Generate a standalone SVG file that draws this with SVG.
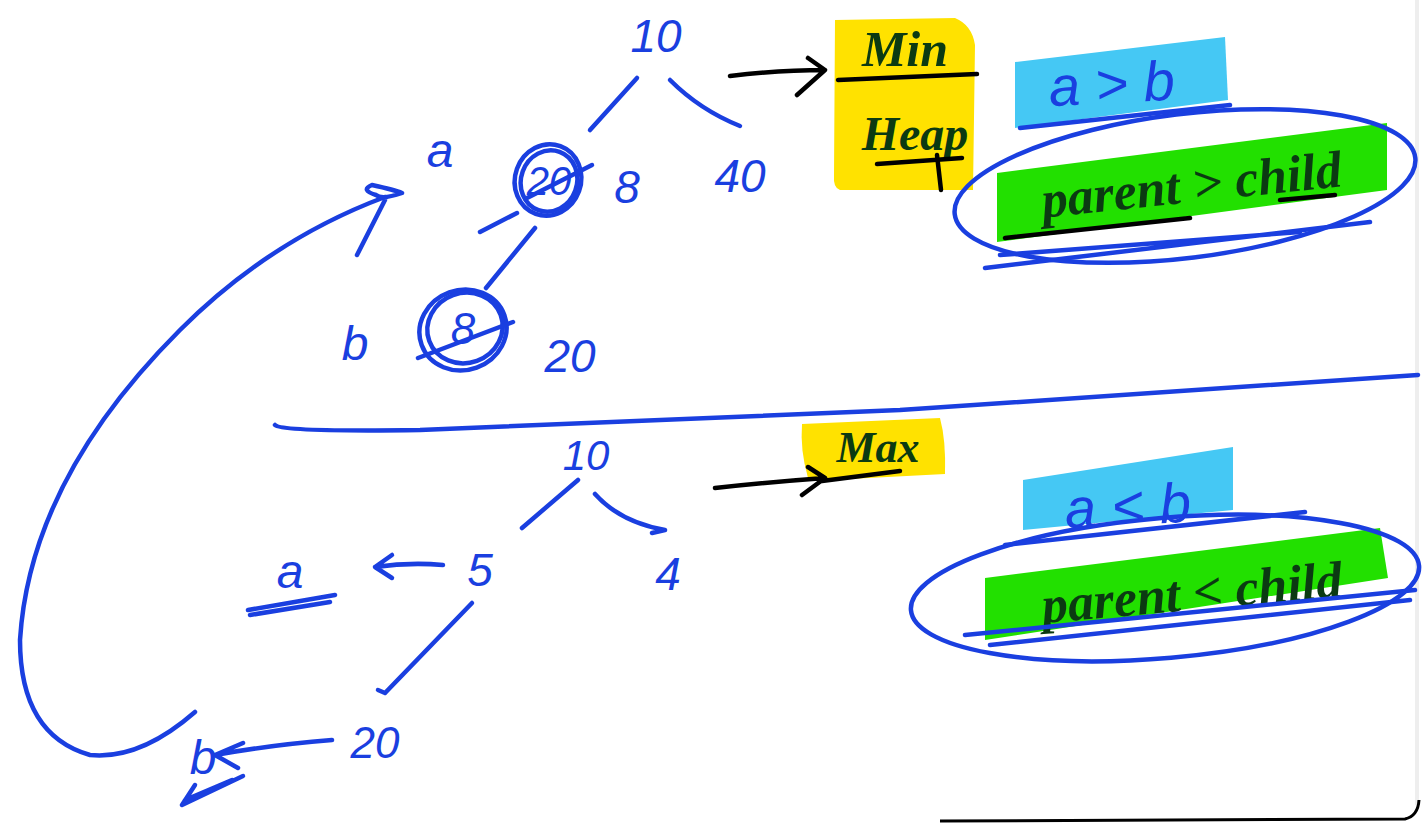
<svg xmlns="http://www.w3.org/2000/svg" width="1422" height="824" viewBox="0 0 1422 824">
<style>
.ink{fill:none;stroke:#1a3fe0;stroke-width:4.5;stroke-linecap:round;stroke-linejoin:round}
.blk{fill:none;stroke:#000;stroke-width:4.5;stroke-linecap:round;stroke-linejoin:round}
.bt{font-family:"Liberation Sans",Arial,sans-serif;fill:#1a3fe0;font-style:italic}
.gt{font-family:"Liberation Serif","Times New Roman",serif;fill:#0b3a12;font-style:italic;font-weight:bold}
</style>
<rect width="1422" height="824" fill="#fff"/>
<!-- frame edges -->
<line x1="1417" y1="0" x2="1417" y2="805" stroke="#eeeeee" stroke-width="4"/>
<path d="M940,821 L1405,819 Q1418,816 1419,800" fill="none" stroke="#000" stroke-width="3"/>

<!-- highlights -->
<g id="min-heap-label">
<path d="M835,20 L955,18 Q972,25 975,45 L973,190 L840,190 Q833,188 834,175 Z" fill="#ffe200"/>
<text class="gt" x="905" y="66" font-size="50" text-anchor="middle">Min</text>
<line class="blk" x1="838" y1="80" x2="977" y2="74"/>
<text class="gt" x="915" y="150" font-size="48" text-anchor="middle">Heap</text>
<line class="blk" x1="877" y1="164" x2="962" y2="158"/>
<line class="blk" x1="937" y1="155" x2="941" y2="190"/>
</g>
<g id="max-heap-label">
<path d="M802,424 L940,418 Q946,440 945,474 L830,480 L808,478 Q800,450 802,424 Z" fill="#ffe200"/>
<text class="gt" x="878" y="462" font-size="44" text-anchor="middle">Max</text>
<line class="blk" x1="822" y1="481" x2="900" y2="471"/>
</g>
<g id="cond-max">
<path d="M1015,62 L1225,37 L1228,100 L1015,128 Z" fill="#45c8f4"/>
<text class="bt" x="1112" y="103" font-size="56" text-anchor="middle" transform="rotate(-3 1112 90)">a &gt; b</text>
<path d="M997,173 L1387,123 L1387,190 L997,242 Z" fill="#22e000"/>
<text class="gt" x="1192" y="202" font-size="52" text-anchor="middle" transform="rotate(-6 1192 190)">parent &gt; child</text>
<line class="blk" x1="1005" y1="238" x2="1190" y2="218" stroke-width="5"/>
<line class="blk" x1="1280" y1="200" x2="1335" y2="195" stroke-width="5"/>
<ellipse class="ink" cx="1185" cy="186" rx="232" ry="72" transform="rotate(-7 1185 186)"/>
<path class="ink" d="M1020,128 L1230,105 M985,268 L1370,222 M1000,255 L1300,232"/>
</g>
<g id="cond-min">
<path d="M1023,480 L1233,447 L1233,510 L1023,530 Z" fill="#45c8f4"/>
<text class="bt" x="1128" y="525" font-size="56" text-anchor="middle" transform="rotate(-3 1128 510)">a &lt; b</text>
<path d="M985,578 L1380,528 L1388,578 L985,640 Z" fill="#22e000"/>
<text class="gt" x="1192" y="610" font-size="52" text-anchor="middle" transform="rotate(-5 1192 595)">parent &lt; child</text>
<ellipse class="ink" cx="1165" cy="588" rx="255" ry="70" transform="rotate(-5 1165 588)"/>
<path class="ink" d="M1005,545 L1305,512 M965,635 L1415,590 M990,645 L1410,600"/>
</g>

<!-- top tree nodes -->
<g id="n-top-10"><text class="bt" x="656" y="52" font-size="46" text-anchor="middle">10</text></g>
<g id="n-top-20">
<text class="bt" x="549" y="195" font-size="40" text-anchor="middle">20</text>
<ellipse class="ink" cx="548" cy="180" rx="33" ry="36" transform="rotate(20 548 180)"/>
<ellipse class="ink" cx="549" cy="181" rx="28" ry="31" transform="rotate(20 549 181)"/>
<line class="ink" x1="527" y1="198" x2="592" y2="165"/>
</g>
<g id="n-top-8"><text class="bt" x="627" y="203" font-size="46" text-anchor="middle">8</text></g>
<g id="n-top-40"><text class="bt" x="740" y="192" font-size="46" text-anchor="middle">40</text></g>
<g id="n-top-a"><text class="bt" x="440" y="167" font-size="48" text-anchor="middle">a</text></g>
<g id="n-top-8b">
<text class="bt" x="463" y="344" font-size="44" text-anchor="middle">8</text>
<ellipse class="ink" cx="463" cy="330" rx="44" ry="40" transform="rotate(-20 463 330)"/>
<ellipse class="ink" cx="465" cy="328" rx="38" ry="35" transform="rotate(-20 465 328)"/>
<line class="ink" x1="418" y1="358" x2="513" y2="322"/>
</g>
<g id="n-top-b"><text class="bt" x="355" y="360" font-size="48" text-anchor="middle">b</text></g>
<g id="n-top-20b"><text class="bt" x="570" y="372" font-size="46" text-anchor="middle">20</text></g>

<!-- bottom tree nodes -->
<g id="n-bot-10"><text class="bt" x="586" y="470" font-size="42" text-anchor="middle">10</text></g>
<g id="n-bot-5"><text class="bt" x="480" y="586" font-size="46" text-anchor="middle">5</text></g>
<g id="n-bot-4"><text class="bt" x="668" y="590" font-size="46" text-anchor="middle">4</text></g>
<g id="n-bot-a">
<text class="bt" x="290" y="588" font-size="48" text-anchor="middle">a</text>
<path class="ink" d="M248,610 L335,595 M250,615 L330,602" stroke-width="6"/>
</g>
<g id="n-bot-20"><text class="bt" x="375" y="758" font-size="44" text-anchor="middle">20</text></g>
<g id="n-bot-b">
<text class="bt" x="203" y="774" font-size="48" text-anchor="middle">b</text>
<path class="ink" d="M182,805 L243,776 M185,800 L232,780 M195,785 L182,805" stroke-width="6"/>
</g>

<!-- connectors -->
<g id="connectors">
<path class="ink" d="M637,78 L590,130"/>
<path class="ink" d="M670,80 Q700,110 740,126"/>
<path class="ink" d="M480,232 L517,213"/>
<path class="ink" d="M535,228 L486,288"/>
<path class="ink" d="M195,712 Q140,760 90,755 Q20,735 20,640 Q30,480 180,330 Q270,240 385,197"/>
<path class="ink" d="M357,255 L385,200 M372,185 Q395,190 402,193 Q382,200 376,195 Q360,190 372,185"/>
<path class="ink" d="M275,425 Q282,432 420,430 L900,410 L1418,375"/>
<path class="ink" d="M578,480 L522,528"/>
<path class="ink" d="M595,494 Q620,522 665,530 M652,533 L665,530"/>
<path class="ink" d="M443,565 Q410,562 375,567 M392,555 L375,567 L392,578"/>
<path class="ink" d="M472,603 L385,693 M378,690 L385,693"/>
<path class="ink" d="M332,740 Q270,745 215,755 M243,743 L215,755 L238,768"/>
<path class="blk" d="M730,76 Q780,70 825,70 M808,58 L825,70 L797,95"/>
<path class="blk" d="M715,488 Q770,482 825,478 M808,467 L825,478 L802,495"/>
</g>
</svg>
